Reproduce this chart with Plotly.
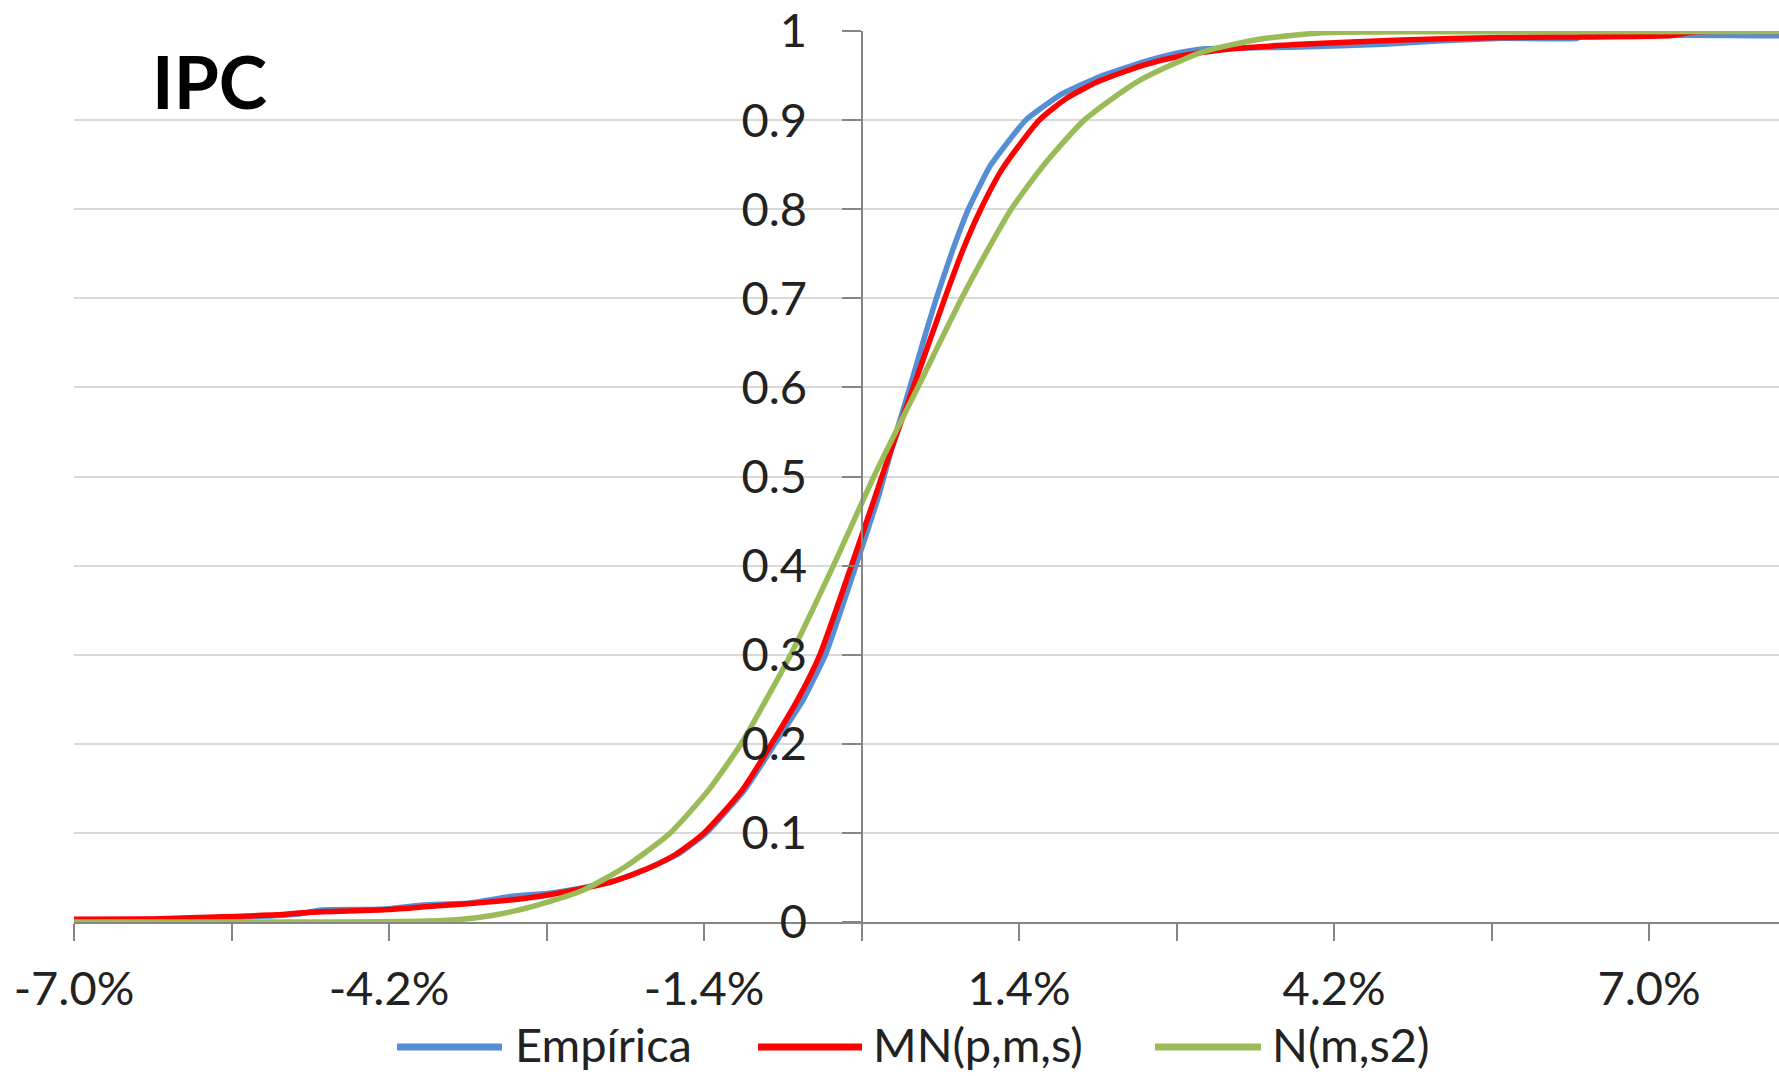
import plotly.graph_objects as go

# ---------------- data (x in %, y = cumulative probability) ----------------
emp_x = [-7.0, -6.2, -5.6, -5.0, -4.8, -4.4, -4.2, -3.9, -3.74, -3.5, -3.1, -2.8, -2.5, -2.2,
         -1.9, -1.62, -1.38, -1.04, -0.77, -0.52, -0.32, -0.05, 0.15, 0.20, 0.31, 0.43, 0.545,
         0.665, 0.81, 0.95, 1.14, 1.46, 1.77, 2.12, 2.5, 2.8, 3.05, 3.9, 4.64, 5.15, 5.7,
         6.36, 6.4, 8.155]
emp_y = [0.002, 0.003, 0.005, 0.009, 0.0135, 0.014, 0.015, 0.019, 0.020, 0.021, 0.029, 0.032,
         0.038, 0.046, 0.060, 0.077, 0.100, 0.148, 0.200, 0.249, 0.300, 0.400, 0.477, 0.500,
         0.550, 0.600, 0.650, 0.700, 0.754, 0.800, 0.848, 0.900, 0.9286, 0.949, 0.965, 0.975,
         0.980, 0.982, 0.985, 0.989, 0.9918, 0.9918, 0.9946, 0.9946]

mn_x = [-7.0, -6.3, -5.9, -5.2, -4.9, -4.2, -3.8, -3.45, -3.1, -2.8, -2.5, -2.2, -1.9, -1.65,
        -1.40, -1.06, -0.80, -0.57, -0.37, -0.09, 0.12, 0.18, 0.32, 0.46, 0.74, 0.90, 1.06,
        1.25, 1.58, 1.83, 2.10, 2.50, 2.86, 3.30, 3.90, 4.80, 5.68, 7.2, 7.4, 8.155]
mn_y = [0.003, 0.0035, 0.005, 0.008, 0.011, 0.014, 0.018, 0.021, 0.025, 0.030, 0.037, 0.046,
        0.060, 0.076, 0.100, 0.148, 0.200, 0.249, 0.300, 0.400, 0.477, 0.500, 0.550, 0.600,
        0.700, 0.754, 0.800, 0.845, 0.900, 0.925, 0.943, 0.9615, 0.9725, 0.980, 0.985, 0.990,
        0.9927, 0.995, 0.999, 0.9995]

n_x = [-7.0, -5.0, -4.3, -3.86, -3.55, -3.30, -3.06, -2.80, -2.47, -2.10, -1.70, -1.36, -1.07,
       -0.85, -0.63, -0.25, 0.11, 0.50, 0.89, 1.12, 1.33, 1.61, 1.98, 2.45, 3.02, 3.55, 4.10,
       5.0, 8.155]
n_y = [0.000, 0.000, 0.0003, 0.001, 0.003, 0.007, 0.013, 0.022, 0.036, 0.062, 0.100, 0.148,
       0.200, 0.249, 0.300, 0.400, 0.500, 0.600, 0.700, 0.754, 0.800, 0.848, 0.900, 0.943,
       0.976, 0.991, 0.998, 0.9992, 0.9993]

series_names = ["Empírica", "MN(p,m,s)", "N(m,s2)"]
series_colors = ["#558ED5", "#FF0000", "#9BBB59"]

x_tick_vals = [-7.0, -5.6, -4.2, -2.8, -1.4, 0.0, 1.4, 2.8, 4.2, 5.6, 7.0]
x_tick_text = ["-7.0%", "", "-4.2%", "", "-1.4%", "", "1.4%", "", "4.2%", "", "7.0%"]
y_tick_vals = [0, 0.1, 0.2, 0.3, 0.4, 0.5, 0.6, 0.7, 0.8, 0.9, 1.0]
y_tick_text = ["0", "0.1", "0.2", "0.3", "0.4", "0.5", "0.6", "0.7", "0.8", "0.9", "1"]

X_MIN, X_MAX = -7.0, 8.155
FONT = "Lato, 'Noto Sans', sans-serif"
FS = 47
LW = 5.5

fig = go.Figure()
fig.add_trace(go.Scatter(x=emp_x, y=emp_y, mode="lines", name=series_names[0],
                         line=dict(color=series_colors[0], width=LW, shape="spline", smoothing=0.4)))
fig.add_trace(go.Scatter(x=mn_x, y=mn_y, mode="lines", name=series_names[1],
                         line=dict(color=series_colors[1], width=LW, shape="spline", smoothing=0.6)))
fig.add_trace(go.Scatter(x=n_x, y=n_y, mode="lines", name=series_names[2],
                         line=dict(color=series_colors[2], width=LW, shape="spline", smoothing=0.6)))

fig.update_layout(
    width=1779, height=1076,
    margin=dict(l=74, r=0, t=31, b=154),
    paper_bgcolor="white", plot_bgcolor="white",
    showlegend=False,
    font=dict(family=FONT, size=FS, color="#222222"),
    xaxis=dict(range=[X_MIN, X_MAX], tickvals=x_tick_vals, ticktext=x_tick_text,
               showgrid=False, zeroline=False, showline=True, linecolor="#868686",
               linewidth=2, ticks="outside", ticklen=17, tickwidth=2, tickcolor="#868686",
               ticklabelstandoff=8, tickfont=dict(size=FS, family=FONT, color="#222222")),
    yaxis=dict(range=[0, 1], tickvals=y_tick_vals, ticktext=y_tick_text,
               anchor="free", position=(0 - X_MIN) / (X_MAX - X_MIN),
               showgrid=True, gridcolor="#D9D9D9", gridwidth=2, zeroline=False,
               showline=True, linecolor="#868686", linewidth=2, ticks="outside",
               ticklen=19, tickwidth=2, tickcolor="#868686", ticklabelstandoff=25,
               tickfont=dict(size=FS, family=FONT, color="#222222")),
)

# title label inside the plot
fig.add_annotation(text="<b>IPC</b>", xref="paper", yref="paper", x=(150 - 74) / 1705,
                   y=(922 - 81) / 891, xanchor="left", yanchor="middle", showarrow=False,
                   font=dict(family=FONT, size=73, color="#000000"))

# manual legend (long line samples as in the original)
leg_line_y = (922 - 1047) / 891
leg_text_y = (922 - 1044) / 891
leg_items = [(397, 502, 513), (758, 862, 871), (1155, 1261, 1270)]
for (x0, x1, xt), name, col in zip(leg_items, series_names, series_colors):
    fig.add_shape(type="line", xref="paper", yref="paper",
                  x0=(x0 - 74) / 1705, x1=(x1 - 74) / 1705, y0=leg_line_y, y1=leg_line_y,
                  line=dict(color=col, width=7))
    fig.add_annotation(text=name, xref="paper", yref="paper", x=(xt - 74) / 1705, y=leg_text_y,
                       xanchor="left", yanchor="middle", showarrow=False,
                       font=dict(family=FONT, size=FS, color="#222222"))

fig.write_html("out.html")
